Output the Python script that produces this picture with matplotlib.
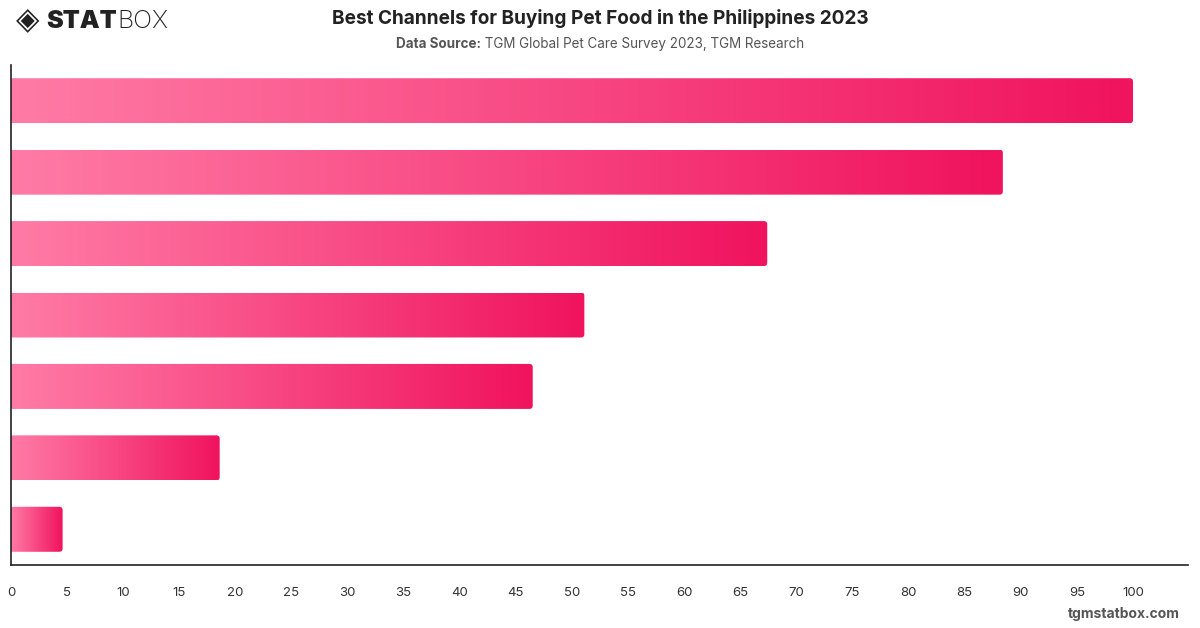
import matplotlib
matplotlib.use("Agg")
import matplotlib.pyplot as plt
import numpy as np
from matplotlib.patches import FancyBboxPatch
from matplotlib.colors import LinearSegmentedColormap

plt.rcParams['font.family'] = ['Inter', 'DejaVu Sans']

# values (top to bottom), no category labels shown
values = [100, 88.4, 67.4, 51.1, 46.5, 18.6, 4.6]
ticks = list(range(0, 101, 5))

title = "Best Channels for Buying Pet Food in the Philippines 2023"
source_bold = "Data Source:"
source_rest = " TGM Global Pet Care Survey 2023, TGM Research"

fig = plt.figure(figsize=(12, 6.28), dpi=100)
ax = fig.add_axes([11 / 1200, 1 - 565 / 628, (1188 - 11) / 1200, 500 / 628])

cmap = LinearSegmentedColormap.from_list("pink", ["#ff7ba6", "#f0135e"])
grad = np.linspace(0, 1, 256).reshape(1, -1)

n = len(values)
h = 0.63
ax.set_xlim(0, 104.9)
ax.set_ylim(n - 0.5, -0.5)

x_px = 1177 / 104.9
y_px = 500 / 7.0
for i, v in enumerate(values):
    box = FancyBboxPatch((-2, i - h / 2), v + 2, h,
                         boxstyle="round,pad=0,rounding_size=0.3",
                         mutation_aspect=x_px / y_px,
                         facecolor="none", edgecolor="none")
    ax.add_patch(box)
    im = ax.imshow(grad, cmap=cmap, aspect="auto",
                   extent=(0, v, i + h / 2, i - h / 2), interpolation="bilinear")
    im.set_clip_path(box)

ax.set_xlim(0, 104.9)
ax.set_ylim(n - 0.5, -0.5)
ax.set_yticks([])
ax.set_xticks(ticks)
ax.tick_params(axis="x", length=0, pad=16, labelsize=9.5, labelcolor="#333333")
for s in ["top", "right"]:
    ax.spines[s].set_visible(False)
ax.spines["left"].set_color("#222222")
ax.spines["bottom"].set_color("#222222")
ax.spines["left"].set_linewidth(1.2)
ax.spines["bottom"].set_linewidth(1.2)

# title and source
fig.text(0.5, 1 - 18 / 628, title, ha="center", va="center",
         fontsize=13.7, fontweight="bold", color="#222222")
fig.canvas.draw()
r = fig.canvas.get_renderer()
tb = fig.text(0, 1 - 44 / 628, source_bold, ha="left", va="center",
              fontsize=9.7, fontweight="bold", color="#555555")
tr = fig.text(0, 1 - 44 / 628, source_rest, ha="left", va="center",
              fontsize=9.7, color="#555555")
wb = tb.get_window_extent(r).width
wr = tr.get_window_extent(r).width
x0 = (1200 - wb - wr) / 2
tb.set_x(x0 / 1200)
tr.set_x((x0 + wb) / 1200)

# logo
fig.text(28 / 1200, 1 - 21 / 628, "\u25c8", ha="center", va="center",
         fontsize=22, color="#222222", family=["DejaVu Sans"])
ts = fig.text(46 / 1200, 1 - 21 / 628, "STAT", ha="left", va="center",
              fontsize=18, fontweight="black", color="#222222")
ws = ts.get_window_extent(r).width
fig.text((46 + ws + 1) / 1200, 1 - 21 / 628, "BOX", ha="left", va="center",
         fontsize=18, fontweight="light", color="#222222")

# footer
fig.text(1180 / 1200, 1 - 614 / 628, "tgmstatbox.com", ha="right", va="center",
         fontsize=10, fontweight="bold", color="#555555")

fig.savefig("out.png", dpi=100, facecolor="white")
